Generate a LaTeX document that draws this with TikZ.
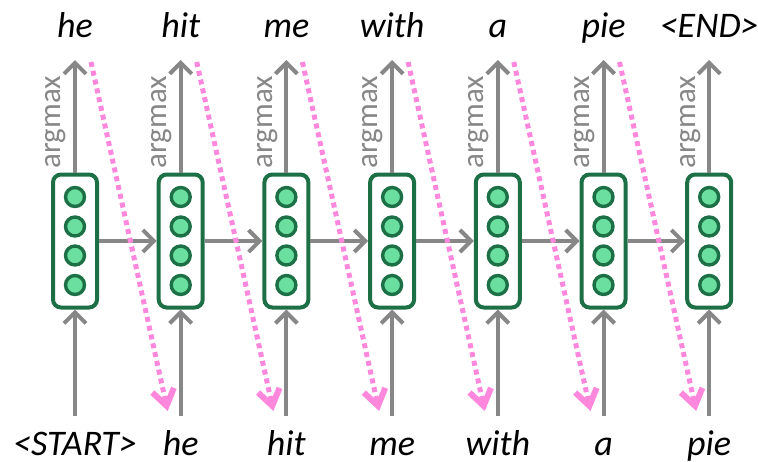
\documentclass[tikz,border=0pt]{standalone}
\usepackage{fontspec}
\setmainfont{Carlito}
\usetikzlibrary{arrows.meta}

\definecolor{cellgreen}{HTML}{1D6F45}
\definecolor{unitgreen}{HTML}{6ADFA0}
\definecolor{flowgray}{HTML}{878787}
\definecolor{feedpink}{HTML}{FF88DD}

\begin{document}
\begin{tikzpicture}[x=0.5pt,y=-0.5pt,
 cell/.style={draw=cellgreen, line width=2pt, rounded corners=4pt, minimum width=22pt, minimum height=66.5pt, inner sep=0pt},
 unit/.style={circle, draw=cellgreen, fill=unitgreen, line width=1.7pt, minimum size=9.5pt, inner sep=0pt},
 flow/.style={draw=flowgray, line width=2pt, -{Straight Barb[length=5.5pt,width=11pt,line width=2pt]}},
 feed/.style={draw=feedpink, line width=2.5pt, line cap=butt, dash pattern=on 2.5pt off 2pt, -{Straight Barb[length=8pt,width=11pt,line width=3pt]}},
 word/.style={font=\fontsize{18}{21}\selectfont\itshape, anchor=base, inner sep=0pt},
 tag/.style={font=\fontsize{15.5}{18}\selectfont, text=flowgray, rotate=90, inner sep=0pt},
]
 \useasboundingbox (0,0) rectangle (758,461);

 \foreach \i/\outw/\inw in {0/he/{<START>},1/hit/he,2/me/hit,3/with/me,4/a/with,5/pie/a,6/{<END>}/pie}{
  \pgfmathsetmacro{\cx}{75+105.7*\i}
  \node[cell] (c\i) at (\cx,241) {};
  \node[unit] (u\i-1) at (\cx,197) {};
  \node[unit] (u\i-2) at (\cx,226.5) {};
  \node[unit] (u\i-3) at (\cx,255.5) {};
  \node[unit] (u\i-4) at (\cx,285) {};
  \node[word] (out\i) at (\cx,37) {\outw};
  \node[word] (in\i) at (\cx,455) {\inw};
  \node[tag] (arg\i) at (\cx-19,122) {argmax};
  \coordinate (top\i) at (\cx,60);
  \coordinate (bot\i) at (\cx,416);
  \coordinate (fs\i) at (\cx+16,62);
  \coordinate (fe\i) at (\cx-13,411);
  \draw[flow] (c\i) -- (top\i);
  \draw[flow] (bot\i) -- (c\i);
 }

 \foreach \i/\j in {0/1,1/2,2/3,3/4,4/5,5/6}{
  \draw[flow] (c\i) -- (c\j);
  \draw[feed] (fs\i) -- (fe\j);
 }

\end{tikzpicture}
\end{document}
